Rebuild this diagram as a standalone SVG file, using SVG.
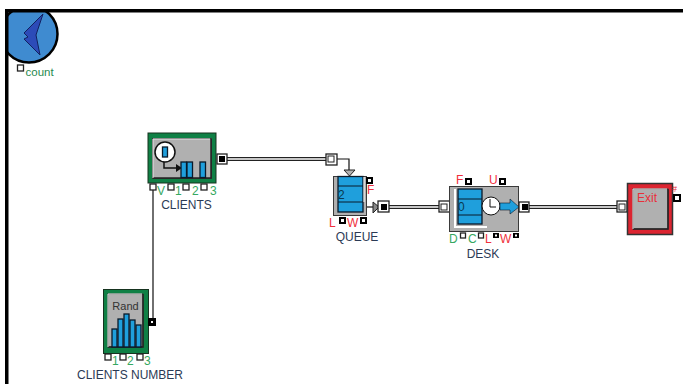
<svg xmlns="http://www.w3.org/2000/svg" width="683" height="384" viewBox="0 0 683 384">
<style>
text{font-family:"Liberation Sans",Arial,sans-serif;font-size:12px}
.lbl{fill:#2b3a55;text-anchor:middle}
.r{fill:#f0303c}
.g{fill:#35a860}
.frame{fill:#000}
.body{fill:#b0b0b0;stroke:#3a3a3a;stroke-width:1}
.hl{fill:none;stroke:#e4e4e4;stroke-width:1}
.sh{fill:none;stroke:#222;stroke-width:1.500}
.bl{fill:#1f9fdc;stroke:#0a1a2a;stroke-width:1.300}
.port{fill:#fff;stroke:#222;stroke-width:1.300}
.bp{fill:#000}
.wp{fill:#fff}
.wire{fill:none;stroke:#111;stroke-width:1.200}
.dbl{fill:none;stroke:#222;stroke-width:4}
.dbl2{fill:none;stroke:#fff;stroke-width:1.300}
</style>
<rect width="683" height="384" fill="#fff"/>
<g id="connectors">
<path class="wire" d="M153 190V322H148"/>
<path class="dbl" d="M226 159H331"/><path class="dbl2" d="M226 159H331"/>
<path class="wire" d="M335 159H349V170"/>
<path class="dbl" d="M387 207H443"/><path class="dbl2" d="M387 207H443"/>
<path class="dbl" d="M527 207H620"/><path class="dbl2" d="M527 207H620"/>
<path class="wire" d="M362 207H376"/>
</g>
<g id="count">
<circle cx="29" cy="34" r="28.500" fill="#3f8bd0" stroke="#000" stroke-width="2.500"/>
<path d="M43 14L24 33L28 37L24 39L40 55L36 35Z" fill="#2c4bb8" stroke="#122060" stroke-width="1"/>
<rect class="port" x="17.500" y="65" width="6" height="6"/>
<text x="25.500" y="76" fill="#1f8a50" style="font-size:11.500px">count</text>
</g>
<g id="frame"><rect width="683" height="9" fill="#fff"/><rect width="5" height="384" fill="#fff"/><rect class="frame" x="5" y="9" width="678" height="3.500"/><rect class="frame" x="5" y="9" width="3.500" height="375"/></g>
<g id="clients">
<rect x="148" y="133" width="68" height="50" fill="#0f8045" stroke="#16331f"/>
<rect class="body" x="152.500" y="138.500" width="59" height="40"/>
<path class="sh" d="M211 139V178H153"/><path class="hl" d="M153 178V139H210"/>
<path d="M164 155V168H178" fill="none" stroke="#111" stroke-width="1.500"/><path d="M176 164L182 168L176 172Z" fill="#111"/>
<circle cx="165" cy="152" r="10" fill="#fff" stroke="#111" stroke-width="1.500"/>
<rect class="bl" x="162.500" y="147" width="5" height="10"/>
<rect class="bl" x="181" y="162" width="5.500" height="15.500"/><rect class="bl" x="187" y="162" width="5.500" height="15.500"/><rect class="bl" x="200" y="162" width="5.500" height="15.500"/>
<rect class="port" x="217" y="154" width="10" height="10"/><rect class="bp" x="219" y="156" width="6" height="6"/>
<rect class="port" x="150" y="184" width="6" height="6"/><rect class="port" x="168" y="184" width="6" height="6"/><rect class="port" x="183" y="184" width="6" height="6"/><rect class="port" x="201" y="184" width="6" height="6"/>
<text class="g" x="157" y="195">V</text><text class="g" x="175" y="195">1</text><text class="g" x="192" y="195">2</text><text class="g" x="210" y="195">3</text>
<text class="lbl" x="186.500" y="209">CLIENTS</text>
</g>
<g id="queue-in-port"><rect class="port" x="326" y="154" width="11" height="11"/><rect class="wp" x="328" y="156" width="6" height="6" stroke="#222"/></g>
<g id="queue">
<path d="M344 170H355L349.500 176Z" fill="#b0b0b0" stroke="#222"/>
<rect class="body" x="333.500" y="176.500" width="33" height="39"/>
<rect class="bl" x="338" y="176.500" width="25" height="35.500"/>
<path d="M338 186H363M338 202H363" stroke="#0a1a2a" fill="none"/>
<path d="M364 177V202" stroke="#fff" stroke-width="1" fill="none"/>
<text x="338" y="199" fill="#0a3a50">2</text>
<rect x="366" y="177" width="7" height="7" fill="#000"/><rect class="wp" x="368" y="179" width="3" height="3"/>
<text class="r" x="367" y="194">F</text>
<path d="M373 202L379 207L373 213Z" fill="#888" stroke="#222"/>
<rect class="port" x="378" y="201" width="11" height="11"/><rect class="bp" x="381" y="204" width="6" height="6"/>
<rect x="339" y="217" width="7" height="7" fill="#000"/><rect class="wp" x="341" y="219" width="3" height="3"/>
<rect x="360" y="217" width="7" height="7" fill="#000"/><rect class="wp" x="362" y="219" width="3" height="3"/>
<text class="r" x="329" y="227">L</text><text class="r" x="347" y="227">W</text>
<text class="lbl" x="357" y="241">QUEUE</text>
</g>
<g id="desk">
<rect class="port" x="439" y="201" width="11" height="11"/><rect class="wp" x="441" y="204" width="6" height="6" stroke="#222"/>
<rect class="body" x="449.500" y="186.500" width="69" height="45"/>
<path d="M455 189V227H487" fill="none" stroke="#fff" stroke-width="2"/>
<rect class="bl" x="458" y="189" width="24" height="35"/>
<path d="M458 199H482M458 215H482" stroke="#0a1a2a" fill="none"/>
<text x="458" y="211" fill="#0a3a50">0</text>
<circle cx="491" cy="206" r="9" fill="#fff" stroke="#111"/>
<path d="M490 199V207H496" fill="none" stroke="#111"/>
<path d="M500 203H510V199L519 207L510 214V210H500Z" fill="#1f9fdc" stroke="#0a1a2a" stroke-width=".6"/>
<rect class="port" x="519" y="202" width="10" height="10"/><rect class="bp" x="522" y="204" width="6" height="6"/>
<rect x="465" y="178" width="7" height="7" fill="#000"/><rect class="wp" x="467" y="180" width="3" height="3"/>
<rect x="499" y="178" width="7" height="7" fill="#000"/><rect class="wp" x="501" y="180" width="3" height="3"/>
<text class="r" x="456" y="184">F</text><text class="r" x="489" y="184">U</text>
<rect class="port" x="460.500" y="233" width="5" height="5"/><rect class="port" x="478.500" y="233" width="5" height="5"/>
<rect x="493" y="233" width="6" height="5" fill="#000"/><rect x="513" y="233" width="6" height="5" fill="#000"/>
<rect class="wp" x="495" y="234.500" width="2" height="2"/><rect class="wp" x="515" y="234.500" width="2" height="2"/>
<text class="g" x="449" y="243">D</text><text class="g" x="468" y="243">C</text><text class="r" x="485" y="243">L</text><text class="r" x="500" y="243">W</text>
<text class="lbl" x="483" y="258">DESK</text>
</g>
<g id="exit">
<rect class="port" x="617" y="201" width="10" height="11"/><rect class="wp" x="619" y="204" width="6" height="6" stroke="#222"/>
<rect x="627.500" y="183.500" width="45" height="51" fill="#dc2430" stroke="#333" stroke-width="1.500"/>
<rect class="body" x="633" y="189" width="35" height="40"/>
<path class="sh" d="M668 189V229H633"/><path class="hl" d="M633 229V189H667"/>
<text x="637" y="202" fill="#e8303a">Exit</text>
<text x="672" y="192" fill="#e8303a" style="font-size:9px">#</text>
<rect x="673" y="194" width="8" height="8" fill="#000"/><rect class="wp" x="675" y="196" width="4" height="4"/>
</g>
<g id="clients-number">
<rect x="103.500" y="289.500" width="45" height="64" fill="#0f8045" stroke="#16331f"/>
<rect class="body" x="108" y="294" width="35" height="53"/>
<path class="sh" d="M143 294V347H108"/><path class="hl" d="M108 347V294H142"/>
<text x="125.500" y="310" fill="#333" text-anchor="middle" style="font-size:11px">Rand</text>
<rect class="bl" x="112" y="329" width="5" height="18"/><rect class="bl" x="118" y="319" width="5" height="28"/><rect class="bl" x="124" y="314" width="5" height="33"/><rect class="bl" x="130" y="320" width="5" height="27"/><rect class="bl" x="136" y="325" width="5" height="22"/>
<rect x="148" y="318" width="8" height="8" fill="#000"/><rect class="wp" x="151" y="321" width="2" height="2"/>
<rect class="port" x="105" y="354" width="6" height="6"/><rect class="port" x="120" y="354" width="6" height="6"/><rect class="port" x="137" y="354" width="6" height="6"/>
<text class="g" x="112" y="365">1</text><text class="g" x="127" y="365">2</text><text class="g" x="144" y="365">3</text>
<text class="lbl" x="130" y="379">CLIENTS NUMBER</text>
</g>
</svg>
